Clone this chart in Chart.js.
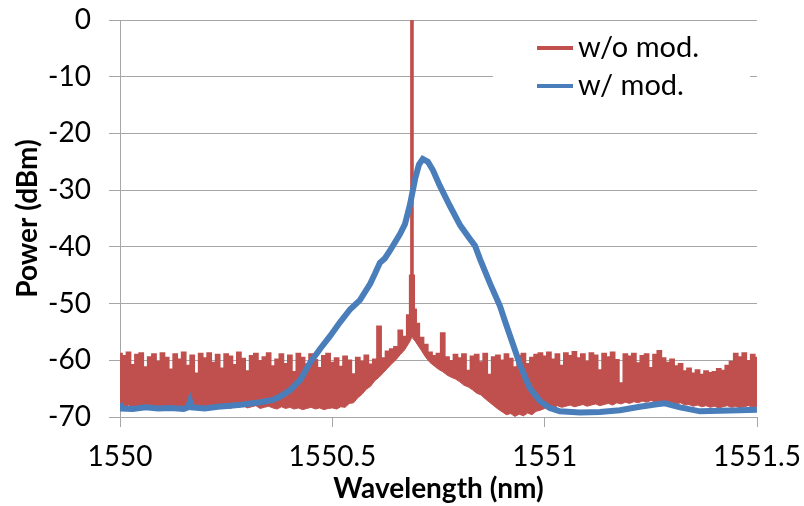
<!DOCTYPE html>
<html>
<head>
<meta charset="utf-8">
<script src="https://cdn.jsdelivr.net/npm/chart.js@4.4.0/dist/chart.umd.min.js"></script>
<style>
  body { margin: 0; background: #fff; }
  #wrap { width: 804px; height: 506px; position: relative; }
</style>
</head>
<body>
<div id="wrap"><canvas id="chart"></canvas></div>
<script>
// wavelength grid of the w/o mod. trace (nm), with extra points at the carrier line
const redX = [
	1550.00, 1550.01, 1550.02, 1550.03, 1550.04, 1550.05, 1550.06, 1550.07, 1550.08, 1550.09,
	1550.10, 1550.11, 1550.12, 1550.13, 1550.14, 1550.15, 1550.16, 1550.17, 1550.18, 1550.19,
	1550.20, 1550.21, 1550.22, 1550.23, 1550.24, 1550.25, 1550.26, 1550.27, 1550.28, 1550.29,
	1550.30, 1550.31, 1550.32, 1550.33, 1550.34, 1550.35, 1550.36, 1550.37, 1550.38, 1550.39,
	1550.40, 1550.41, 1550.42, 1550.43, 1550.44, 1550.45, 1550.46, 1550.47, 1550.48, 1550.49,
	1550.50, 1550.51, 1550.52, 1550.53, 1550.54, 1550.55, 1550.56, 1550.57, 1550.58, 1550.59,
	1550.60, 1550.61, 1550.62, 1550.63, 1550.64, 1550.65, 1550.66, 1550.67, 1550.68,
	1550.684, 1550.686, 1550.687, 1550.688, 1550.689, 1550.691, 1550.695,
	1550.70, 1550.71, 1550.72, 1550.73, 1550.74, 1550.75, 1550.76, 1550.77, 1550.78, 1550.79,
	1550.80, 1550.81, 1550.82, 1550.83, 1550.84, 1550.85, 1550.86, 1550.87, 1550.88, 1550.89,
	1550.90, 1550.91, 1550.92, 1550.93, 1550.94, 1550.95, 1550.96, 1550.97, 1550.98, 1550.99,
	1551.00, 1551.01, 1551.02, 1551.03, 1551.04, 1551.05, 1551.06, 1551.07, 1551.08, 1551.09,
	1551.10, 1551.11, 1551.12, 1551.13, 1551.14, 1551.15, 1551.16, 1551.17, 1551.18, 1551.19,
	1551.20, 1551.21, 1551.22, 1551.23, 1551.24, 1551.25, 1551.26, 1551.27, 1551.28, 1551.29,
	1551.30, 1551.31, 1551.32, 1551.33, 1551.34, 1551.35, 1551.36, 1551.37, 1551.38, 1551.39,
	1551.40, 1551.41, 1551.42, 1551.43, 1551.44, 1551.45, 1551.46, 1551.47, 1551.48, 1551.49, 1551.50
];
// upper edge of the noisy w/o mod. trace (dBm)
const redTop = [
	-58.8, -59.2, -58.6, -60.8, -59.0, -58.7, -61.2, -59.4, -58.9, -60.2,
	-58.7, -59.5, -61.6, -58.9, -59.8, -58.6, -60.9, -59.1, -62.3, -58.8,
	-59.6, -58.7, -60.4, -59.0, -61.4, -58.9, -59.3, -60.8, -58.6, -59.7,
	-61.9, -59.2, -58.8, -60.1, -59.4, -58.7, -61.0, -59.8, -58.9, -60.6,
	-59.1, -62.0, -58.8, -59.5, -60.7, -58.9, -59.9, -61.3, -59.2, -58.8,
	-60.4, -59.6, -61.1, -59.3, -60.0, -62.4, -59.5, -60.2, -59.1, -60.7,
	-59.8, -54.0, -59.6, -58.4, -58.0, -57.6, -54.7, -55.8, -52.0,
	-45, 0, 0, 0, 0, -45, -51,
	-53.5, -56.0, -57.2, -58.6, -59.2, -58.8, -55.2, -59.4, -60.1, -59.0,
	-59.6, -58.9, -61.8, -59.3, -59.0, -60.3, -58.8, -62.5, -59.4, -59.1,
	-60.0, -58.9, -59.7, -61.2, -59.2, -58.8, -60.6, -59.5, -59.0, -58.7,
	-59.3, -58.6, -59.8, -58.9, -60.9, -58.7, -59.2, -58.5, -59.6, -58.9,
	-60.2, -58.7, -59.1, -61.7, -58.8, -59.4, -58.6, -59.9, -64.0, -58.9,
	-59.3, -58.8, -60.5, -59.2, -58.9, -61.3, -59.0, -58.3, -59.6, -60.4,
	-59.8, -61.0, -60.6, -61.9, -61.4, -62.3, -61.7, -62.5, -61.9, -62.2,
	-62.0, -61.5, -61.8, -60.9, -60.2, -58.8, -59.4, -58.7, -60.1, -59.0, -59.5
];
// lower edge of the noisy w/o mod. trace (dBm)
const redBottom = [
	-68.0, -68.3, -67.9, -68.2, -68.4, -68.0, -67.8, -68.3, -68.1, -68.5,
	-68.0, -68.2, -67.9, -68.4, -68.1, -68.3, -67.9, -68.2, -68.5, -68.0,
	-68.2, -68.4, -68.0, -68.3, -67.9, -68.2, -68.5, -68.1, -68.3, -68.0,
	-68.4, -68.2, -68.0, -68.5, -68.3, -68.1, -68.4, -68.6, -68.2, -68.5,
	-68.3, -68.6, -68.4, -68.7, -68.5, -68.3, -68.6, -68.4, -68.7, -68.5,
	-68.4, -68.6, -68.2, -68.3, -67.6, -67.5, -66.6, -66.0, -65.1, -64.6,
	-63.6, -63.0, -62.2, -61.4, -60.6, -59.9, -59.0, -58.2, -57.0,
	-56.5, -56.0, -56.0, -56.0, -56.0, -56.3, -56.6,
	-57.2, -58.3, -59.5, -60.4, -61.0, -61.6, -62.0, -62.6, -63.0, -63.3,
	-63.8, -64.4, -64.7, -65.2, -65.8, -66.1, -66.8, -67.4, -68.0, -68.6,
	-69.1, -69.6, -69.4, -69.9, -69.5, -69.8, -69.3, -69.6, -69.0, -68.8,
	-68.5, -68.2, -68.4, -68.0, -68.3, -68.1, -67.9, -68.2, -68.0, -67.8,
	-68.1, -67.9, -67.7, -68.0, -67.8, -67.6, -67.9, -67.5, -67.7, -67.4,
	-67.6, -67.3, -67.5, -67.2, -67.4, -67.1, -67.3, -67.5, -67.2, -67.6,
	-67.4, -67.7, -67.5, -67.9, -67.8, -68.1, -67.9, -68.2, -68.0, -68.3,
	-68.1, -68.4, -68.2, -68.0, -68.3, -68.1, -68.4, -68.2, -68.0, -68.3, -68.1
];
// w/ mod. trace
const blueX = [
	1550.000, 1550.005, 1550.03, 1550.06, 1550.09, 1550.12, 1550.15, 1550.160, 1550.165, 1550.170,
	1550.20, 1550.23, 1550.26, 1550.29, 1550.33, 1550.36, 1550.377, 1550.40, 1550.424, 1550.447,
	1550.471, 1550.494, 1550.518, 1550.542, 1550.565, 1550.589, 1550.600, 1550.612, 1550.624, 1550.636,
	1550.659, 1550.671, 1550.683, 1550.695, 1550.704, 1550.713, 1550.725, 1550.737, 1550.753, 1550.777,
	1550.801, 1550.824, 1550.836, 1550.848, 1550.871, 1550.895, 1550.907, 1550.918, 1550.930, 1550.942,
	1550.954, 1550.965, 1550.989, 1551.012, 1551.036, 1551.083, 1551.130, 1551.177, 1551.224, 1551.260,
	1551.283, 1551.319, 1551.366, 1551.413, 1551.460, 1551.500
];
const blueY = [
	-67.6, -68.5, -68.6, -68.3, -68.5, -68.4, -68.6, -68.3, -67.2, -68.3,
	-68.5, -68.2, -68.0, -67.8, -67.4, -67.0, -66.4, -65.3, -63.5, -60.5,
	-58.0, -55.8, -53.3, -51.0, -49.4, -46.5, -44.8, -42.8, -42.0, -40.6,
	-37.8, -36.0, -32.5, -28.0, -25.5, -24.5, -25.0, -26.5, -29.2, -32.8,
	-36.2, -38.6, -39.8, -42.2, -46.4, -50.5, -53.2, -55.6, -58.2, -60.8,
	-63.0, -64.9, -67.2, -68.4, -69.0, -69.2, -69.1, -68.8, -68.2, -67.8,
	-67.6, -68.3, -69.0, -68.9, -68.8, -68.7
];
const yTicks = [-70, -60, -50, -40, -30, -20, -10, 0];
const xTicks = [1550, 1550.5, 1551, 1551.5];

const RED = "#C0504D";
const BLUE = "#4A7EBB";
const GRID = "#A6A6A6";
const FONT = "Lato, 'Liberation Sans', sans-serif";

// legend drawn inside the plot, Excel style
const insideLegend = {
	id: "insideLegend",
	afterDatasetsDraw(chart) {
		const ctx = chart.ctx;
		ctx.save();
		ctx.fillStyle = "#fff";
		ctx.fillRect(493, 24, 257, 86);
		const items = chart.data.datasets.filter((d) => d.label);
		items.sort((a, b) => a.legendOrder - b.legendOrder);
		items.forEach((d, i) => {
			const y = 48 + i * 38;
			ctx.strokeStyle = d.borderColor;
			ctx.lineWidth = 4;
			ctx.beginPath();
			ctx.moveTo(537, y);
			ctx.lineTo(573, y);
			ctx.stroke();
			ctx.fillStyle = "#000";
			ctx.font = "29px " + FONT;
			ctx.textBaseline = "middle";
			ctx.fillText(d.label, 578, y);
		});
		ctx.restore();
	},
};

const ctx = document.getElementById("chart").getContext("2d");
new Chart(ctx, {
	type: "line",
	data: {
		datasets: [
			{
				label: "w/ mod.",
				legendOrder: 1,
				data: blueX.map((x, i) => ({ x: x, y: blueY[i] })),
				borderColor: BLUE,
				borderWidth: 6,
				pointRadius: 0,
				fill: false,
			},
			{
				label: "w/o mod.",
				legendOrder: 0,
				data: redX.map((x, i) => ({ x: x, y: redTop[i] })),
				borderColor: RED,
				backgroundColor: RED,
				borderWidth: 1.5,
				stepped: "middle",
				pointRadius: 0,
				fill: 2,
			},
			{
				label: "",
				data: redX.map((x, i) => ({ x: x, y: redBottom[i] })),
				borderColor: RED,
				borderWidth: 1,
				pointRadius: 0,
				fill: false,
			},
		],
	},
	options: {
		responsive: true,
		maintainAspectRatio: false,
		animation: false,
		events: [],
		layout: { autoPadding: false, padding: { top: 20, right: 47, bottom: 0, left: 0 } },
		scales: {
			x: {
				type: "linear",
				min: 1550,
				max: 1551.5,
				afterBuildTicks: (scale) => {
					scale.ticks = xTicks.map((v) => ({ value: v }));
				},
				afterFit: (scale) => {
					scale.height = 89;
					scale.paddingLeft = 0;
					scale.paddingRight = 0;
				},
				ticks: {
					color: "#000",
					font: { family: FONT, size: 28 },
					padding: 13,
					maxRotation: 0,
					callback: (v) => String(v),
				},
				grid: { drawOnChartArea: false, tickLength: 10, color: GRID },
				border: { color: GRID },
				title: {
					display: true,
					text: "Wavelength (nm)",
					color: "#000",
					font: { family: FONT, size: 28, weight: "bold" },
					padding: { top: 0, bottom: 0 },
				},
			},
			y: {
				min: -70,
				max: 0,
				afterBuildTicks: (scale) => {
					scale.ticks = yTicks.map((v) => ({ value: v }));
				},
				afterFit: (scale) => {
					scale.width = 120;
					scale.paddingTop = 0;
					scale.paddingBottom = 0;
				},
				ticks: {
					color: "#000",
					font: { family: FONT, size: 28 },
					padding: 18,
				},
				grid: { color: GRID, tickLength: 11 },
				border: { color: GRID },
				title: {
					display: true,
					text: "Power (dBm)",
					color: "#000",
					font: { family: FONT, size: 28, weight: "bold" },
					padding: { top: 11, bottom: 0 },
				},
			},
		},
		plugins: {
			legend: { display: false },
			tooltip: { enabled: false },
		},
	},
	plugins: [insideLegend],
});
</script>
</body>
</html>
